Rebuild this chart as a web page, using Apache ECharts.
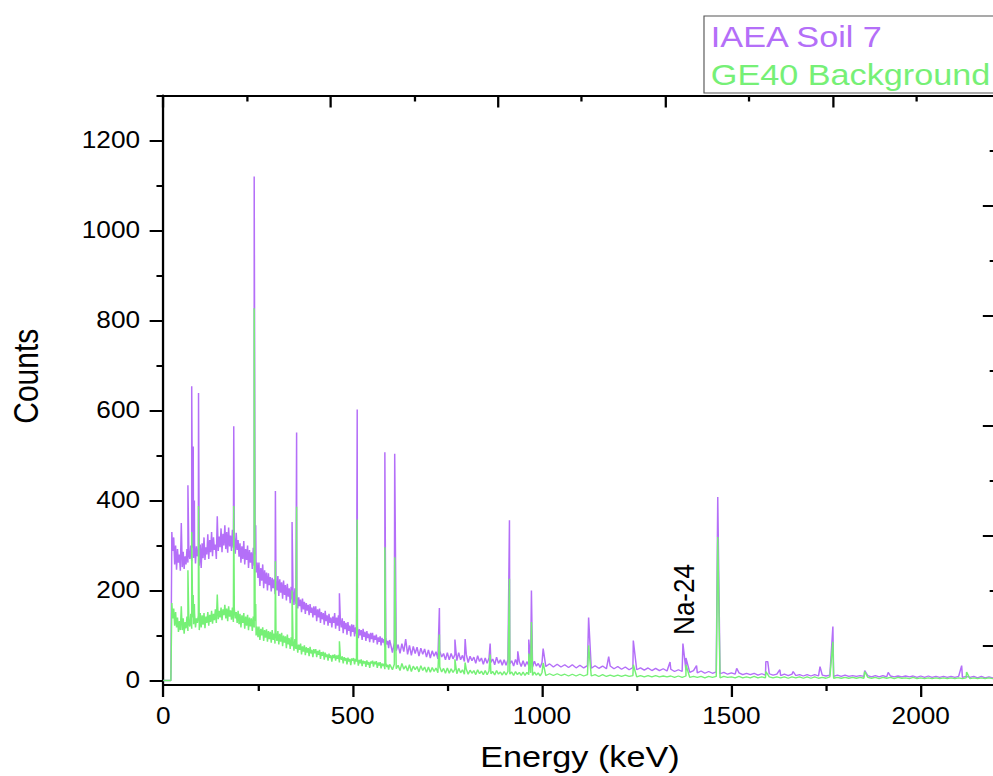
<!DOCTYPE html>
<html><head><meta charset="utf-8">
<script src="https://cdn.jsdelivr.net/npm/echarts@6.0.0/dist/echarts.min.js"></script>
<style>
html,body{margin:0;padding:0;overflow:hidden;background:#fff;}
#chart{width:871px;height:776px;transform:scaleX(1.140069);transform-origin:0 0;}
</style></head><body><div id="chart"></div>
<script>
// ---- data ----
const seriesNames = ['IAEA Soil 7', 'GE40 Background'];
// continuum is stored in three energy segments: [start keV, step keV]
const seg1 = [0, 2.5];     // 0 .. 600 keV
const seg2 = [605, 5];     // 605 .. 1000 keV
const seg3 = [1010, 10];   // 1010 .. 2200 keV

const soilSeg1 = [
  0,0,0,0,0,0,0,0,0,330,288,318,258,300,246,292,262,280,244,350,
  252,286,248,276,258,292,262,282,270,300,265,295,272,305,260,298,276,290,255,302,
  250,305,272,318,268,296,280,325,270,312,285,330,276,318,290,302,270,365,288,320,
  296,338,285,326,300,345,292,330,284,340,298,322,288,335,295,318,282,328,290,312,
  275,305,262,298,270,310,258,292,268,300,250,290,262,285,248,295,255,280,240,262,
  228,262,210,250,222,258,205,245,215,240,200,238,212,230,198,228,205,225,192,220,
  200,232,188,225,195,218,182,222,190,212,178,215,186,205,172,208,180,200,168,205,
  170,192,160,185,165,180,152,182,158,175,148,172,155,168,145,170,150,162,140,165,
  145,165,132,158,140,160,128,152,136,150,124,155,132,145,122,148,128,140,118,142,
  128,150,115,140,122,145,110,135,118,138,105,132,114,128,102,130,110,122,98,125,
  108,124,98,118,104,120,94,114,100,112,90,115,97,108,88,110,94,104,85,106,
  92,106,84,100,90,102,80,96,86,98,78,95,84,92,75,94,80,88,72,90,
  82
];
const soilSeg2 = [
  62,84,66,80,60,82,64,92,58,78,
  56,76,60,74,54,72,58,70,52,68,
  50,66,54,64,48,66,52,60,46,62,
  46,60,48,58,44,62,46,56,42,58,
  40,54,44,52,38,55,42,50,36,50,
  38,50,40,48,35,52,38,46,34,46,
  34,46,37,44,32,47,35,42,31,44,
  31,42,33,40,30,43,32,38,29,40
];
const soilSeg3 = [
  31,37,30,36,30,35,29,35,28,34,
  28,33,27,33,27,32,26,32,26,31,
  25,30,24,29,24,28,23,28,22,27,
  22,26,21,25,20,24,20,23,18,22,
  17,21,16,20,16,19,15,18,14,17,
  14,17,13,16,13,16,12,15,12,15,
  12,14,11,14,11,14,11,13,10,13,
  10,13,10,12,10,12,9,12,9,12,
  9,11,9,11,9,11,8,11,8,11,
  8,10,8,10,8,10,8,10,7,10,
  7,10,7,9,7,9,7,9,7,9,
  7,9,7,9,6,9,6,8,6,8
];
const bgSeg1 = [
  0,0,0,0,0,0,0,0,0,172,138,160,122,152,118,140,108,132,112,165,
  112,138,104,130,116,142,110,128,120,148,115,140,125,150,118,138,128,145,112,150,
  118,145,124,150,116,142,128,152,122,146,130,155,126,148,134,158,128,191,136,155,
  140,162,134,158,145,168,138,160,132,165,142,156,135,162,130,158,138,152,128,155,
  125,148,118,145,128,150,115,142,122,146,112,140,120,138,110,142,118,132,100,120,
  96,120,90,115,100,118,88,112,95,114,86,110,92,108,84,112,90,104,82,106,
  88,110,80,104,86,106,76,100,84,98,72,102,80,94,70,96,76,90,66,92,
  70,84,62,80,68,82,58,76,64,78,56,74,62,72,54,75,60,68,52,70,
  60,70,52,66,57,68,48,63,55,64,46,62,52,58,44,60,50,56,42,57,
  50,58,44,56,48,57,40,53,46,54,38,52,44,50,36,51,42,48,34,49,
  44,50,36,48,42,49,33,46,38,47,32,44,38,43,30,45,35,41,28,42,
  38,44,31,42,36,43,28,40,33,41,27,38,32,37,25,39,30,35,24,36,
  33
];
const bgSeg2 = [
  24,36,26,34,22,38,25,33,21,35,
  20,32,24,31,19,33,22,30,18,30,
  18,29,20,28,17,30,19,27,16,28,
  16,26,18,25,15,27,17,24,14,25,
  14,23,16,22,13,24,15,21,13,22,
  13,21,15,20,12,22,14,19,12,20,
  12,20,14,19,11,20,13,18,11,19,
  11,18,13,17,11,19,12,17,10,18
];
const bgSeg3 = [
  11,15,11,15,11,14,10,14,10,14,
  10,13,10,13,9,13,9,12,9,12,
  9,12,9,11,8,11,8,11,8,11,
  8,10,8,10,7,10,7,10,7,9,
  7,9,6,9,7,9,6,9,7,8,
  6,9,6,8,6,9,6,8,6,8,
  6,8,6,8,5,8,6,8,5,8,
  5,8,5,7,5,8,5,7,5,7,
  5,7,5,7,5,7,5,7,4,7,
  5,7,4,7,5,6,4,7,4,6,
  4,6,4,6,4,6,4,6,4,6,
  4,6,4,6,4,6,4,6,4,6
];
// peaks: [energy keV, counts at top]
const soilPeaks = [
  [65,434],[75,654],[79,520],[82,400],[93,639],[186,565],[240,1120],[244,345],
  [296,421],[340,352],[352,551],[465,194],[512,602],[585,507],[611,504],
  [729,161],[770,91],[797,92],[863,82],[914,356],[936,65],[965,91],[972,200],
  [1003,71],[1123,140],[1176,53],[1241,89],[1338,41],[1372,82],[1380,50],
  [1408,33],[1464,408],[1514,27],[1591,42],[1596,42],[1628,24],[1663,20],
  [1734,31],[1768,120],[1852,22],[1914,18],[2108,33]
];
const bgPeaks = [
  [65,245],[75,330],[79,190],[82,170],[93,388],[186,388],[240,827],[244,170],
  [296,265],[340,200],[352,386],[465,87],[512,358],[585,296],[611,274],
  [729,102],[770,47],[797,40],[863,58],[914,226],[965,60],[972,130],
  [1003,39],[1123,78],[1241,35],[1380,35],[1464,319],[1591,20],[1768,86],
  [1852,20],[2121,19]
];
const annotation = {text: 'Na-24', energy: 1375, counts: 180};

// tick values
const xMajorTicks = [0, 500, 1000, 1500, 2000];
const xMinorTicks = [250, 750, 1250, 1750];
const yMajorTicks = [0, 200, 400, 600, 800, 1000, 1200];
const yMinorTicks = [100, 300, 500, 700, 900, 1100, 1300];
const topMajorTicks = [0, 1, 2, 3, 4];
const topMinorTicks = [0.5, 1.5, 2.5, 3.5, 4.5];
const rightMajorTicks = [0, 1, 2, 3, 4, 5];
const rightMinorTicks = [0.5, 1.5, 2.5, 3.5, 4.5];

[['soilSeg1',soilSeg1,241],['soilSeg2',soilSeg2,80],['soilSeg3',soilSeg3,120],
 ['bgSeg1',bgSeg1,241],['bgSeg2',bgSeg2,80],['bgSeg3',bgSeg3,120]].forEach(a=>{
  if (a[1].length !== a[2]) throw new Error(a[0]+' length '+a[1].length);
});

function buildSeries(segs, peaks) {
  const pts = [];
  segs.forEach(([def, vals]) => vals.forEach((v, i) => pts.push([def[0] + i * def[1], v])));
  peaks.forEach(p => pts.push([p[0], p[1]]));
  pts.sort((a, b) => a[0] - b[0]);
  return pts;
}

const FONT = '"Liberation Sans", Arial, Helvetica, sans-serif';
const purple = '#b46ff8';
const green = '#76f076';
const black = '#000';
const tickStyle = {color: black, width: 2};
const plain = v => String(v);

function tickAxis(extra) {
  return Object.assign({
    type: 'value', splitLine: {show: false},
    axisLine: {show: false, onZero: false},
    axisLabel: {show: false}
  }, extra);
}

const chart = echarts.init(document.getElementById('chart'), null, {renderer: 'svg'});
chart.setOption({
  animation: false,
  backgroundColor: '#fff',
  textStyle: {fontFamily: FONT},
  grid: {left: 143.24, right: -3.07, top: 95.5, bottom: 91, containLabel: false, outerBoundsMode: 'none'},
  legend: {
    orient: 'vertical', left: 617.5, top: 16,
    padding: [6, 40, 3, 0], itemGap: 8, itemWidth: 0, itemHeight: 0,
    borderColor: '#555', borderWidth: 1, selectedMode: false,
    textStyle: {fontSize: 30, fontFamily: FONT},
    data: [
      {name: seriesNames[0], textStyle: {color: purple}},
      {name: seriesNames[1], textStyle: {color: green}}
    ]
  },
  xAxis: [
    tickAxis({
      position: 'bottom', min: 0, max: 2200,
      axisLine: {show: true, onZero: false, lineStyle: {color: black, width: 2}},
      axisTick: {show: true, customValues: xMajorTicks, length: 12, lineStyle: tickStyle},
      axisLabel: {show: true, customValues: xMajorTicks, formatter: plain, margin: 20, fontSize: 23, color: black, fontFamily: FONT},
      name: 'Energy (keV)', nameLocation: 'middle', nameGap: 57,
      nameTextStyle: {fontSize: 30, color: black, fontFamily: FONT}
    }),
    tickAxis({position: 'bottom', min: 0, max: 2200,
      axisTick: {show: true, customValues: xMinorTicks, length: 6, lineStyle: tickStyle}}),
    tickAxis({position: 'top', min: 0, max: 4.979,
      axisLine: {show: true, onZero: false, lineStyle: {color: black, width: 2}},
      axisTick: {show: true, inside: true, customValues: topMajorTicks, length: 12, lineStyle: tickStyle}}),
    tickAxis({position: 'top', min: 0, max: 4.979,
      axisTick: {show: true, inside: true, customValues: topMinorTicks, length: 6, lineStyle: tickStyle}})
  ],
  yAxis: [
    tickAxis({
      position: 'left', min: -10, max: 1300,
      axisLine: {show: true, onZero: false, lineStyle: {color: black, width: 2}},
      axisTick: {show: true, customValues: yMajorTicks, length: 12, lineStyle: tickStyle},
      axisLabel: {show: true, customValues: yMajorTicks, formatter: plain, margin: 20.4, fontSize: 23, color: black, fontFamily: FONT},
      name: 'Counts', nameLocation: 'middle', nameGap: 105,
      nameTextStyle: {fontSize: 30, color: black, fontFamily: FONT, padding: [0, 0, 0, 28]}
    }),
    tickAxis({position: 'left', min: -10, max: 1300,
      axisTick: {show: true, customValues: yMinorTicks, length: 6, lineStyle: tickStyle}}),
    tickAxis({position: 'right', min: 0, max: 5.359, inverse: true,
      axisLine: {show: true, onZero: false, lineStyle: {color: black, width: 2}},
      axisTick: {show: true, inside: true, customValues: rightMajorTicks, length: 12, lineStyle: tickStyle}}),
    tickAxis({position: 'right', min: 0, max: 5.359, inverse: true,
      axisTick: {show: true, inside: true, customValues: rightMinorTicks, length: 6, lineStyle: tickStyle}})
  ],
  series: [
    {
      name: seriesNames[0], type: 'line', xAxisIndex: 0, yAxisIndex: 0,
      data: buildSeries([[seg1, soilSeg1], [seg2, soilSeg2], [seg3, soilSeg3]], soilPeaks),
      showSymbol: false, symbol: 'none', sampling: null,
      lineStyle: {color: purple, width: 1.3}, itemStyle: {color: purple},
      silent: true,
      markPoint: {
        silent: true, symbol: 'rect', symbolSize: 1,
        itemStyle: {color: 'rgba(0,0,0,0)'},
        label: {show: true, position: 'inside', formatter: annotation.text, rotate: 90,
                color: black, fontSize: 26, fontFamily: FONT},
        data: [{coord: [annotation.energy, annotation.counts]}]
      }
    },
    {
      name: seriesNames[1], type: 'line', xAxisIndex: 0, yAxisIndex: 0,
      data: buildSeries([[seg1, bgSeg1], [seg2, bgSeg2], [seg3, bgSeg3]], bgPeaks),
      showSymbol: false, symbol: 'none', sampling: null,
      lineStyle: {color: green, width: 1.3}, itemStyle: {color: green},
      silent: true
    }
  ]
});
</script></body></html>
